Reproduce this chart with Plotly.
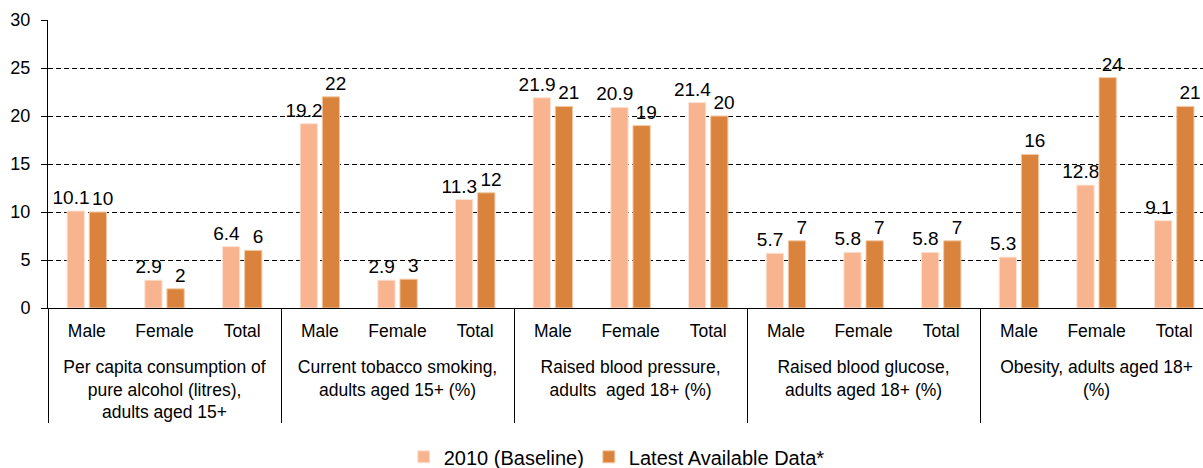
import plotly.graph_objects as go

# Indicateurs (libellés de groupe) et sous-catégories
indicators = [
    "Per capita consumption of<br>pure alcohol (litres),<br>adults aged 15+",
    "Current tobacco smoking,<br>adults aged 15+ (%)",
    "Raised blood pressure,<br>adults  aged 18+ (%)",
    "Raised blood glucose,<br>adults aged 18+ (%)",
    "Obesity, adults aged 18+<br>(%)",
]
sexes = ["Male", "Female", "Total"]

baseline_2010 = [10.1, 2.9, 6.4, 19.2, 2.9, 11.3, 21.9, 20.9, 21.4,
                 5.7, 5.8, 5.8, 5.3, 12.8, 9.1]
latest = [10, 2, 6, 22, 3, 12, 21, 19, 20, 7, 7, 7, 16, 24, 21]

y_ticks = [0, 5, 10, 15, 20, 25, 30]

# Axe multi-catégorie : (indicateur, sexe)
# (petite ligne vide sous le sexe pour espacer les deux niveaux)
spacer = "<br><span style='font-size:11px'>\u00a0</span>"
x_outer = [ind for ind in indicators for _ in sexes]
x_inner = [s + spacer for s in sexes] * len(indicators)
x = [x_outer, x_inner]

font = "Liberation Sans, Arial, sans-serif"

# Étiquettes légèrement écartées l'une de l'autre (espace demi-cadratin)
fig = go.Figure()
fig.add_bar(x=x, y=baseline_2010, name="2010 (Baseline)",
            marker_color="#F8B48E", marker_line_color="#FCE3D4",
            marker_line_width=1, texttemplate="%{y}\u2002")
fig.add_bar(x=x, y=latest, name="Latest Available Data*",
            marker_color="#D9833D", marker_line_color="#F2C9A6",
            marker_line_width=1, texttemplate="\u2002%{y}")

fig.update_traces(textposition="outside", cliponaxis=False,
                  constraintext="none", hoverinfo="skip",
                  textfont=dict(family=font, size=19, color="#000000"))

fig.update_layout(
    width=1203, height=468,
    margin=dict(l=48, r=0, t=20, b=160, autoexpand=False),
    paper_bgcolor="white", plot_bgcolor="white",
    barmode="group", bargap=0.43, bargroupgap=0.22,
    font=dict(family=font, size=18, color="#000000"),
    showlegend=True,
    legend=dict(orientation="h", x=0.308, xanchor="left", y=-0.449,
                yanchor="top", font=dict(size=20), traceorder="normal"),
)

fig.update_xaxes(
    type="multicategory", range=[-0.5, 14.37], automargin=False,
    showline=True, linecolor="#000000", linewidth=1,
    showdividers=True, dividercolor="#000000", dividerwidth=1,
    tickfont=dict(size=17.5), ticks="", ticklabelstandoff=7,
)
fig.update_yaxes(
    range=[0, 30], tickvals=y_ticks, automargin=False,
    showline=True, linecolor="#000000", linewidth=1,
    ticks="outside", ticklen=6, tickcolor="#000000", ticklabelstandoff=7,
    showgrid=True, gridcolor="#000000", gridwidth=1, griddash="5px,3px",
    zeroline=False, tickfont=dict(size=18),
)

# Page sans marge pour que la figure occupe exactement la fenêtre
fig.write_html("out.html", config={"displayModeBar": False},
               post_script="document.body.style.margin='0';"
                           "document.body.style.overflow='hidden';")
